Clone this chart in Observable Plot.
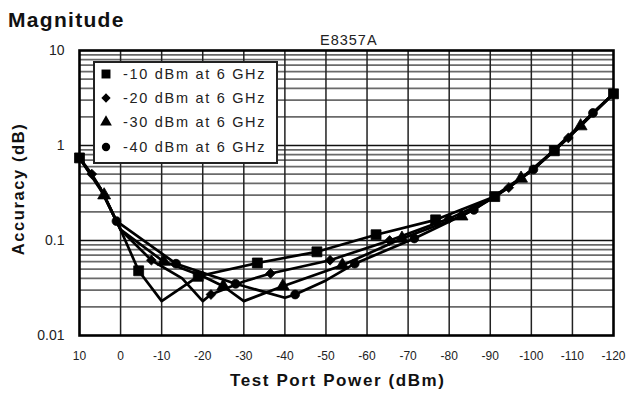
<!DOCTYPE html>
<html><head><meta charset="utf-8">
<script src="https://cdn.jsdelivr.net/npm/d3@7"></script>
<script src="https://cdn.jsdelivr.net/npm/@observablehq/plot@0.6"></script>
<style>
body{margin:0;background:#fff;font-family:"Liberation Sans",Arial,sans-serif;}
#wrap{position:relative;width:629px;height:398px;overflow:hidden;background:#fff;}
#wrap > svg{position:absolute;left:0;top:0;}
.t{position:absolute;white-space:nowrap;color:#111;line-height:1;}
#legend{position:absolute;left:93px;top:61px;width:181px;height:99px;border:2px solid #222;background:#fff;}
.row{position:absolute;left:0;height:20px;display:flex;align-items:center;}
.row svg{margin-left:4px;margin-right:10px;}
.row span{font-size:14.5px;letter-spacing:1.7px;color:#222;}
</style></head><body><div id="wrap"></div>
<script>
// Series labels
const seriesNames = ["-10 dBm at 6 GHz", "-20 dBm at 6 GHz", "-30 dBm at 6 GHz", "-40 dBm at 6 GHz"];
const seriesSymbols = ["square", "diamond2", "triangle", "circle"];

// -10 dBm series (squares)
const powerA = [10, 5, 0, -4.4, -10, -18.9, -33.3, -47.8, -62.2, -76.7, -91.1, -100, -105.6, -110, -115, -120];
const accA   = [0.74, 0.36, 0.13, 0.048, 0.023, 0.042, 0.058, 0.076, 0.115, 0.165, 0.29, 0.54, 0.88, 1.35, 2.2, 3.5];
const markA  = [1, 0, 0, 1, 0, 1, 1, 1, 1, 1, 1, 0, 1, 0, 0, 1];

// -20 dBm series (diamonds)
const powerB = [10, 7, 5, 0, -7.5, -15, -20, -22, -30, -36.5, -51, -65.5, -80, -90, -94.5, -100, -109, -115, -120];
const accB   = [0.74, 0.5, 0.36, 0.13, 0.062, 0.04, 0.023, 0.027, 0.037, 0.045, 0.062, 0.1, 0.17, 0.27, 0.36, 0.54, 1.2, 2.2, 3.5];
const markB  = [0, 1, 0, 0, 1, 0, 0, 1, 0, 1, 1, 1, 1, 0, 1, 0, 1, 0, 0];

// -30 dBm series (triangles)
const powerC = [10, 4, 0, -10.5, -20, -25, -30, -39.5, -54, -68.5, -83, -90, -97.5, -105, -112, -120];
const accC   = [0.74, 0.3, 0.13, 0.06, 0.042, 0.033, 0.023, 0.033, 0.055, 0.105, 0.18, 0.27, 0.45, 0.85, 1.6, 3.5];
const markC  = [0, 1, 0, 1, 0, 1, 0, 1, 1, 1, 1, 0, 1, 0, 1, 0];

// -40 dBm series (circles)
const powerD = [10, 5, 1, -13.5, -28, -40, -42.5, -50, -57, -71.5, -86, -100.5, -115, -120];
const accD   = [0.74, 0.36, 0.16, 0.057, 0.035, 0.025, 0.027, 0.038, 0.057, 0.105, 0.21, 0.56, 2.2, 3.5];
const markD  = [0, 0, 1, 1, 1, 0, 1, 0, 1, 1, 1, 1, 1, 0];

// Axis ticks
const xTicks = [10, 0, -10, -20, -30, -40, -50, -60, -70, -80, -90, -100, -110, -120];
const yTicks = [0.01, 0.1, 1, 10];
const yMinor = [0.02,0.03,0.04,0.05,0.06,0.07,0.08,0.09,0.2,0.3,0.4,0.5,0.6,0.7,0.8,0.9,2,3,4,5,6,7,8,9];

const raw = [[powerA, accA, markA], [powerB, accB, markB], [powerC, accC, markC], [powerD, accD, markD]];
const data = raw.flatMap(([p, a, m], i) => p.map((x, j) => ({series: seriesNames[i], x, y: a[j], mark: m[j] === 1})));

const dotMarks = seriesNames.map((s, i) => Plot.dot(data.filter(d => d.series === s && d.mark), {
  x: "x", y: "y", symbol: () => seriesSymbols[i], fill: "#000", stroke: "#000", strokeWidth: 0.8,
  r: [5.6, 4.4, 4.8, 4.4][i]
}));

const chart = Plot.plot({
  width: 629, height: 398,
  marginLeft: 79, marginRight: 16, marginTop: 50, marginBottom: 63,
  style: {background: "transparent", fontFamily: "'Liberation Sans', Arial, sans-serif"},
  x: {type: "linear", domain: [10, -120]},
  y: {type: "log", domain: [0.01, 10]},
  symbol: {type: "identity"},
  marks: [
    Plot.ruleY(yMinor, {stroke: "#6a6a6a", strokeWidth: 1.7}),
    Plot.ruleY([0.1, 1], {stroke: "#111", strokeWidth: 1.5}),
    Plot.ruleX(xTicks.slice(1, -1), {stroke: "#222", strokeWidth: 1.5}),
    Plot.line(data, {x: "x", y: "y", z: "series", stroke: "#000", strokeWidth: 2.7, curve: "linear"}),
    ...dotMarks,
    Plot.frame({stroke: "#000", strokeWidth: 2.6}),
    Plot.axisX({ticks: xTicks, tickFormat: d => String(d), tickSize: 0, tickPadding: 16, fontSize: 12, label: null, fill: "#222"}),
    Plot.axisY({ticks: yTicks, tickFormat: d => String(d), tickSize: 0, tickPadding: 15, fontSize: 14, label: null, fill: "#222"})
  ]
});

const wrap = document.getElementById("wrap");
wrap.appendChild(chart);

function addText(txt, css) {
  const d = document.createElement("div");
  d.className = "t"; d.textContent = txt;
  Object.assign(d.style, css);
  wrap.appendChild(d);
  return d;
}
addText("Magnitude", {left: "8px", top: "9px", fontSize: "21px", fontWeight: "bold", letterSpacing: "1.3px"});
addText("E8357A", {left: "320px", top: "33px", fontSize: "14.5px", letterSpacing: "1px", color: "#222"});
addText("Test Port Power (dBm)", {left: "230px", top: "372px", fontSize: "17px", fontWeight: "bold", letterSpacing: "1.6px"});
const yl = addText("Accuracy (dB)", {left: "18px", top: "189px", fontSize: "16.5px", fontWeight: "bold", letterSpacing: "1.6px"});
yl.style.transform = "translate(-50%,-50%) rotate(-90deg)";

// Legend
const legend = document.createElement("div");
legend.id = "legend";
const symMap = {square: d3.symbolSquare, diamond2: d3.symbolDiamond2, triangle: d3.symbolTriangle, circle: d3.symbolCircle};
const symSize = {square: 80, diamond2: 55, triangle: 60, circle: 55};
const rowTops = [1, 25, 49, 74];
seriesNames.forEach((s, i) => {
  const row = document.createElement("div");
  row.className = "row"; row.style.top = rowTops[i] + "px";
  const sv = d3.create("svg").attr("width", 14).attr("height", 14);
  sv.append("path").attr("transform", "translate(7,7)")
    .attr("d", d3.symbol(symMap[seriesSymbols[i]], symSize[seriesSymbols[i]])()).attr("fill", "#000");
  row.appendChild(sv.node());
  const sp = document.createElement("span"); sp.textContent = s;
  row.appendChild(sp);
  legend.appendChild(row);
});
wrap.appendChild(legend);
</script></body></html>
